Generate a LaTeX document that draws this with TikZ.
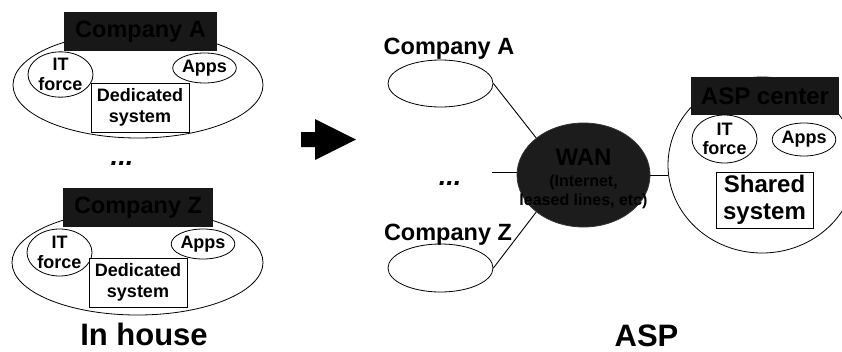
\documentclass[tikz,border=0pt]{standalone}
\usepackage{fontspec}
\setmainfont{Liberation Sans}
\usetikzlibrary{shapes.geometric}

\newcommand{\fs}[2]{\fontsize{#1}{#2}\selectfont\bfseries}

\definecolor{boxdark}{RGB}{24,24,24}
\definecolor{wandark}{RGB}{28,28,28}

\tikzset{
  outline/.style={draw=black, line width=0.8pt},
  site/.style={outline, ellipse, inner sep=0pt},
  darkbox/.style={rectangle, fill=boxdark, inner sep=0pt},
  boxtext/.style={inner sep=0pt, text=black, font=\fs{23.5}{26}},
  itforce/.style={site, align=center, font=\fs{18}{19.5}},
  appsnode/.style={site, font=\fs{18}{20}},
  sysbox/.style={outline, rectangle, fill=white, inner sep=0pt, align=center},
  heading/.style={inner sep=0pt, anchor=base, font=\fs{23.5}{26}},
  caption/.style={inner sep=0pt, anchor=base, font=\fs{31}{34}},
  dots/.style={inner sep=0pt, anchor=base, font=\fontsize{27}{30}\selectfont\bfseries\itshape},
  link/.style={draw=black, line width=0.9pt}
}

\begin{document}
\begin{tikzpicture}[x=1pt, y=-1pt]
\useasboundingbox (0,0) rectangle (842,351);

% ---------- in house: company A ----------
\node[site, minimum width=250, minimum height=106] (hA) at (138,85) {};
\node[darkbox, minimum width=153, minimum height=39] (hAbox) at (140.5,31.5) {};
\node[boxtext] (hAlbl) at (hAbox) {Company A};
\node[itforce, minimum width=65, minimum height=45] (hAit) at (60.5,74.5) {IT\\force};
\node[appsnode, minimum width=49, minimum height=30] (hAapps) at (204.5,68) {Apps};
\node[sysbox, minimum width=98, minimum height=49, font=\fs{18}{21}] (hAsys) at (140,107.5) {Dedicated\\system};

\node[dots] (hdots) at (122,165) {...};

% ---------- in house: company Z ----------
\node[site, minimum width=251, minimum height=105] (hZ) at (137.5,262.5) {};
\node[darkbox, minimum width=150, minimum height=39] (hZbox) at (138,207.5) {};
\node[boxtext] (hZlbl) at (hZbox) {Company Z};
\node[itforce, minimum width=65, minimum height=47] (hZit) at (59.5,252.5) {IT\\force};
\node[appsnode, minimum width=48, minimum height=30] (hZapps) at (203,244) {Apps};
\node[sysbox, minimum width=98, minimum height=49, font=\fs{18}{21}] (hZsys) at (138,282.5) {Dedicated\\system};

\node[caption] (inhouse) at (144,345.5) {In house};

% ---------- transition arrow ----------
\fill[black] (301,132) -- (315,132) -- (315,119) -- (356,139.5) -- (315,160)
  -- (315,147) -- (301,147) -- cycle;

% ---------- ASP: client companies ----------
\node[heading] (aAlbl) at (449,54) {Company A};
\node[site, minimum width=105, minimum height=47] (aA) at (440.5,83.5) {};
\node[heading] (aZlbl) at (448,240) {Company Z};
\node[site, minimum width=105, minimum height=48] (aZ) at (440.5,268) {};
\node[dots] (adots) at (450,185) {...};
\coordinate (amid) at (492,172);

% ---------- WAN ----------
\node[ellipse, draw=black!80, line width=0.8pt, fill=wandark,
      minimum width=133, minimum height=104, inner sep=0pt] (wan) at (583.5,175) {};
\node[inner sep=0pt, align=center, text=black, font=\fs{16}{19.5}] (wantext) at (583.5,179)
  {{\fs{24}{24}WAN}\\[1pt](Internet,\\leased lines, etc)};

% ---------- ASP center ----------
\node[site, minimum width=188, minimum height=176] (aspc) at (762,165) {};
\node[darkbox, minimum width=148, minimum height=38] (aspcbox) at (765,96) {};
\node[boxtext, font=\fs{24}{26}] (aspclbl) at (aspcbox) {ASP center};
\node[itforce, minimum width=65, minimum height=48] (aspit) at (724.5,139) {IT\\force};
\node[appsnode, minimum width=48, minimum height=33] (aspapps) at (804,139.5) {Apps};
\node[sysbox, minimum width=97, minimum height=56, font=\fs{24}{27}] (aspsys) at (764.5,200) {Shared\\system};

\node[caption] (asplbl) at (646.5,346) {ASP};

% ---------- links ----------
\draw[link] (aA.east) -- (wan.north west);
\draw[link] (aZ.east) -- (wan.south west);
\draw[link] (amid) -- (amid -| wan.west);
\draw[link] (wan.east) -- (wan.east -| aspc.west);
\end{tikzpicture}
\end{document}
